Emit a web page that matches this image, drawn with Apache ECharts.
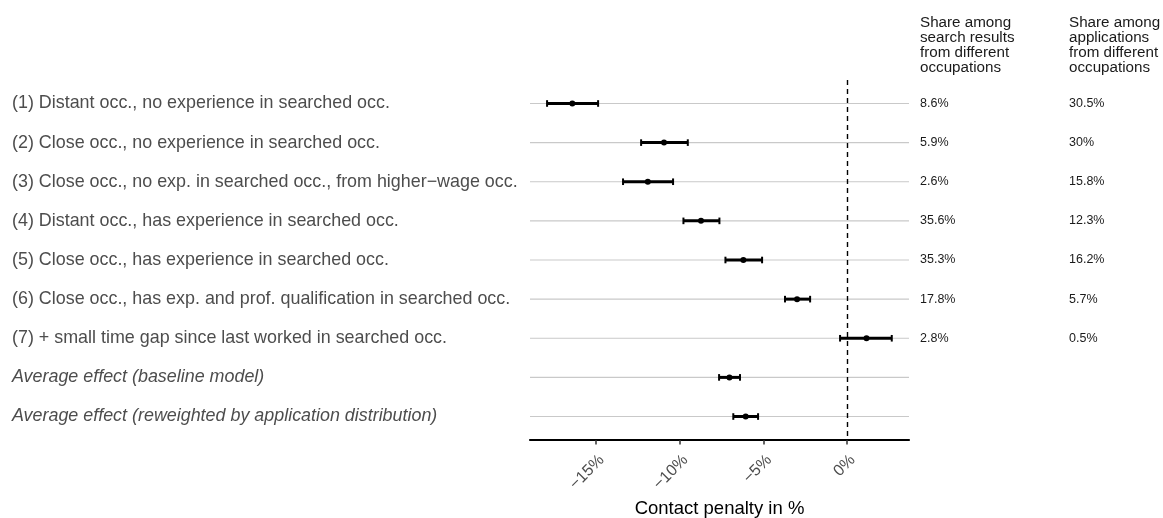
<!DOCTYPE html>
<html>
<head>
<meta charset="utf-8">
<script src="https://cdn.jsdelivr.net/npm/echarts@6/dist/echarts.min.js"></script>
<style>
  html, body { margin: 0; padding: 0; background: #ffffff; }
  #chart { width: 1163px; height: 518px; }
</style>
</head>
<body>
<div id="chart"></div>
<script>
// Row labels, top to bottom
const rowLabels = [
  '(1) Distant occ., no experience in searched occ.',
  '(2) Close occ., no experience in searched occ.',
  '(3) Close occ., no exp. in searched occ., from higher\u2212wage occ.',
  '(4) Distant occ., has experience in searched occ.',
  '(5) Close occ., has experience in searched occ.',
  '(6) Close occ., has exp. and prof. qualification in searched occ.',
  '(7) + small time gap since last worked in searched occ.',
  'Average effect (baseline model)',
  'Average effect (reweighted by application distribution)'
];
// Rows drawn in italics (average effects)
const italicRows = [false, false, false, false, false, false, false, true, true];

// Contact penalty estimates and confidence bounds, in %
const estimate = [-16.42, -10.94, -11.91, -8.73, -6.20, -2.99, 1.16, -7.03, -6.06];
const lower    = [-17.93, -12.31, -13.39, -9.78, -7.27, -3.71, -0.42, -7.65, -6.80];
const upper    = [-14.88, -9.52, -10.40, -7.63, -5.08, -2.21, 2.67, -6.40, -5.32];

// Side columns
const shareSearch = ['8.6%', '5.9%', '2.6%', '35.6%', '35.3%', '17.8%', '2.8%'];
const shareApps   = ['30.5%', '30%', '15.8%', '12.3%', '16.2%', '5.7%', '0.5%'];
const headerSearch = 'Share among\nsearch results\nfrom different\noccupations';
const headerApps   = 'Share among\napplications\nfrom different\noccupations';

// X axis
const xTicks = [-15, -10, -5, 0];
const xMin = -18.95, xMax = 3.7;
const axisTitle = 'Contact penalty in %';

const FONT = "'Liberation Sans', Arial, Helvetica, sans-serif";
const rowPositions = rowLabels.map((_, i) => i + 1);

const chart = echarts.init(document.getElementById('chart'), null, { renderer: 'canvas' });

const barData = estimate.map((v, i) => [i + 1, lower[i], v, upper[i]]);
const gridData = rowPositions.map(r => [r]);

function sideAxis(values, margin) {
  return {
    type: 'value', position: 'right', min: 0.4, max: 9.6, inverse: true,
    axisLine: { show: false }, axisTick: { show: false }, splitLine: { show: false },
    axisLabel: {
      customValues: values.map((_, i) => i + 1),
      formatter: v => values[Math.round(v) - 1] || '',
      align: 'left', margin: margin,
      fontFamily: FONT, fontSize: 12.5, color: '#1a1a1a'
    }
  };
}

const option = {
  backgroundColor: '#ffffff',
  animation: false,
  grid: { left: 530, right: 254, top: 80, bottom: 78, containLabel: false, outerBoundsMode: 'none' },
  xAxis: {
    type: 'value', min: xMin, max: xMax,
    name: axisTitle, nameLocation: 'middle', nameGap: 59,
    nameTextStyle: { fontFamily: FONT, fontSize: 18.5, color: '#000000' },
    axisLine: { show: true, lineStyle: { color: '#000000', width: 2.2 } },
    axisTick: { show: true, customValues: xTicks, length: 4.5, lineStyle: { color: '#333333', width: 1.5 } },
    axisLabel: {
      customValues: xTicks, rotate: 45, margin: 12,
      verticalAlign: 'top',
      formatter: v => (v < 0 ? '\u2212' + Math.abs(v) : String(v)) + '%',
      fontFamily: FONT, fontSize: 16, color: '#4d4d4d'
    },
    splitLine: { show: false }
  },
  yAxis: [
    {
      type: 'value', min: 0.4, max: 9.6, inverse: true,
      axisLine: { show: false }, axisTick: { show: false }, splitLine: { show: false },
      axisLabel: {
        customValues: rowPositions,
        align: 'left', margin: 518,
        formatter: v => {
          const i = Math.round(v) - 1;
          return italicRows[i] ? '{it|' + rowLabels[i] + '}' : '{rg|' + rowLabels[i] + '}';
        },
        rich: {
          rg: { fontFamily: FONT, fontSize: 17.9, color: '#4d4d4d' },
          it: { fontFamily: FONT, fontSize: 17.9, color: '#4d4d4d', fontStyle: 'italic' }
        }
      }
    },
    sideAxis(shareSearch, 11),
    sideAxis(shareApps, 160)
  ],
  graphic: [
    { type: 'text', left: 920, top: 15, style: { text: headerSearch, fontFamily: FONT, fontSize: 15.2, lineHeight: 15, fill: '#1a1a1a' } },
    { type: 'text', left: 1069, top: 15, style: { text: headerApps, fontFamily: FONT, fontSize: 15.2, lineHeight: 15, fill: '#1a1a1a' } }
  ],
  series: [
    {
      // horizontal row guides + dashed zero reference
      type: 'custom', z: 1,
      data: gridData,
      encode: { y: 0 },
      renderItem: (params, api) => {
        const r = api.value(0);
        const a = api.coord([xMin, r]);
        const b = api.coord([xMax, r]);
        return {
          type: 'line',
          shape: { x1: a[0], y1: a[1], x2: b[0], y2: b[1] },
          style: { stroke: '#c9c9c9', lineWidth: 1.1 }
        };
      },
      markLine: {
        silent: true, symbol: ['none', 'none'], label: { show: false },
        lineStyle: { color: '#000000', type: [5, 4], width: 1.4 },
        data: [{ xAxis: 0 }]
      }
    },
    {
      // point estimates with confidence intervals
      type: 'custom', z: 3,
      data: barData,
      encode: { y: 0, x: [1, 2, 3] },
      renderItem: (params, api) => {
        const r = api.value(0);
        const lo = api.coord([api.value(1), r]);
        const mid = api.coord([api.value(2), r]);
        const hi = api.coord([api.value(3), r]);
        const capH = 3.3;
        const st = { stroke: '#000000', lineWidth: 3 };
        return {
          type: 'group',
          children: [
            { type: 'line', shape: { x1: lo[0], y1: lo[1], x2: hi[0], y2: hi[1] }, style: st },
            { type: 'line', shape: { x1: lo[0], y1: lo[1] - capH, x2: lo[0], y2: lo[1] + capH }, style: { stroke: '#000000', lineWidth: 2 } },
            { type: 'line', shape: { x1: hi[0], y1: hi[1] - capH, x2: hi[0], y2: hi[1] + capH }, style: { stroke: '#000000', lineWidth: 2 } },
            { type: 'circle', shape: { cx: mid[0], cy: mid[1], r: 3 }, style: { fill: '#000000' } }
          ]
        };
      }
    }
  ]
};

chart.setOption(option);
</script>
</body>
</html>
